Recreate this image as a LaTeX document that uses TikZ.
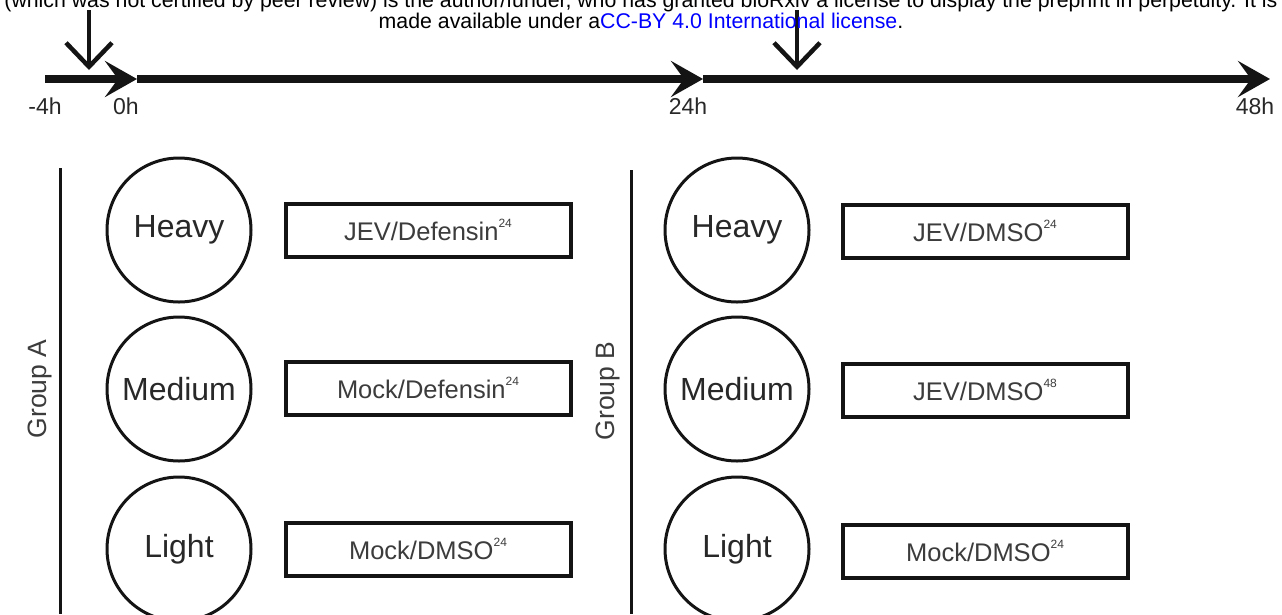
\documentclass[tikz,border=0pt]{standalone}
\usepackage{fontspec}
\setmainfont{Liberation Sans}
\usetikzlibrary{arrows.meta}
\definecolor{linkblue}{RGB}{0,0,255}
\definecolor{inkgray}{RGB}{40,40,40}
\definecolor{boxtext}{RGB}{60,60,60}
\newcommand{\supnum}[1]{\raisebox{0.5em}{\fontsize{12}{12}\selectfont #1}}
\begin{document}
\begin{tikzpicture}[x=1pt,y=-1pt,
  axisline/.style={line width=8.5pt, draw=black!92,
    -{Stealth[length=32pt,width=36pt,inset=13pt]}},
  dosearrow/.style={line width=4.5pt, draw=black!92,
    -{Straight Barb[length=24pt,width=46pt]}},
  timelabel/.style={font=\fontsize{23}{26}\selectfont, text=inkgray},
  groupcircle/.style={circle, draw=black!92, line width=3pt,
    minimum size=144pt, inner sep=0pt, text=inkgray,
    font=\fontsize{32}{36}\selectfont},
  treatbox/.style={rectangle, draw=black!92, line width=4pt,
    minimum width=285pt, minimum height=53pt, inner sep=0pt,
    text=boxtext, font=\fontsize{25.5}{28}\selectfont},
  grouplabel/.style={rotate=90, text=boxtext,
    font=\fontsize{26.5}{30}\selectfont},
  groupline/.style={line width=3pt, draw=black!92},
  header/.style={anchor=base, font=\fontsize{21.3}{24}\selectfont}
]
\useasboundingbox (0,0) rectangle (1282,614);
\fill[white] (0,0) rectangle (1282,614);

% time axis
\coordinate (tstart) at (45,79);
\coordinate (t0) at (137,79);
\coordinate (t24) at (703,79);
\coordinate (t48) at (1270,79);
\draw[axisline] (tstart) -- (t0);
\draw[axisline] (t0) -- (t24);
\draw[axisline] (t24) -- (t48);

% treatment time points
\coordinate (doseAtop) at (89,10);
\coordinate (doseAtip) at (89,70);
\coordinate (doseBtop) at (797,10);
\coordinate (doseBtip) at (797,70);
\draw[dosearrow] (doseAtop) -- (doseAtip);
\draw[dosearrow] (doseBtop) -- (doseBtip);

% axis labels
\node[timelabel] (lm4) at (45,106) {-4h};
\node[timelabel] (l0) at (126,106) {0h};
\node[timelabel] (l24) at (688,106) {24h};
\node[timelabel] (l48) at (1255,106) {48h};

% preprint notice
\node[header] (noticeA) at (641,7) {(which was not certified by peer review) is the author/funder, who has granted bioRxiv a license to display the preprint in perpetuity. It is};
\node[header] (noticeB) at (641,28) {made available under a\textcolor{linkblue}{CC-BY 4.0 International license}.};

% group A
\coordinate (gAtop) at (60,168);
\coordinate (gAbot) at (60,614);
\draw[groupline] (gAtop) -- (gAbot);
\node[grouplabel] (labA) at (40,389) {Group A};
\node[groupcircle] (hA) at (179,230) {Heavy};
\node[groupcircle] (mA) at (179,389) {Medium};
\node[groupcircle] (lA) at (179,549) {Light};
\node[treatbox] (tbA1) at (428,230) {JEV/Defensin\supnum{24}};
\node[treatbox] (tbA2) at (428,388) {Mock/Defensin\supnum{24}};
\node[treatbox] (tbA3) at (428,549) {Mock/DMSO\supnum{24}};

% group B
\coordinate (gBtop) at (631,170);
\coordinate (gBbot) at (631,614);
\draw[groupline] (gBtop) -- (gBbot);
\node[grouplabel] (labB) at (608,391) {Group B};
\node[groupcircle] (hB) at (737,230) {Heavy};
\node[groupcircle] (mB) at (737,389) {Medium};
\node[groupcircle] (lB) at (737,549) {Light};
\node[treatbox] (tbB1) at (985,231) {JEV/DMSO\supnum{24}};
\node[treatbox] (tbB2) at (985,390) {JEV/DMSO\supnum{48}};
\node[treatbox] (tbB3) at (985,551) {Mock/DMSO\supnum{24}};
\end{tikzpicture}
\end{document}
